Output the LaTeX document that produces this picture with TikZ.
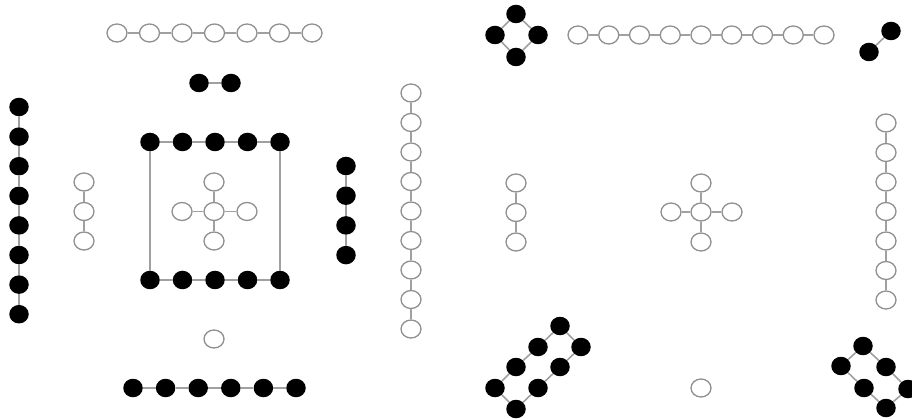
\documentclass[tikz,border=0pt]{standalone}
\usetikzlibrary{shapes.geometric}
\definecolor{edgegray}{HTML}{A0A0A0}
\definecolor{ringgray}{HTML}{909090}
\tikzset{
  wn/.style={ellipse, draw=ringgray, line width=1.3pt, fill=white, minimum width=20pt, minimum height=18pt, inner sep=0pt},
  bn/.style={ellipse, fill=black, minimum width=19.5pt, minimum height=18.5pt, inner sep=0pt},
  edge/.style={draw=edgegray, line width=1.6pt}
}
\begin{document}
\begin{tikzpicture}[x=1pt,y=-1pt]
\useasboundingbox (0,0) rectangle (912,419);
\fill[white] (0,0) rectangle (912,419);
% ---------- left half ----------
% top white chain
\foreach \i in {1,...,7} \node[wn] (t\i) at ({117+32.5*(\i-1)},33) {};
\foreach \i [count=\j from 2] in {1,...,6} \draw[edge] (t\i) -- (t\j);
% black pair
\node[bn] (p1) at (199,83) {};
\node[bn] (p2) at (231,83) {};
\draw[edge] (p1) -- (p2);
% left black vertical chain
\foreach \i in {1,...,8} \node[bn] (L\i) at (19,{107+29.6*(\i-1)}) {};
\foreach \i [count=\j from 2] in {1,...,7} \draw[edge] (L\i) -- (L\j);
% white 3-chain
\foreach \i in {1,...,3} \node[wn] (a\i) at (84,{182+29.5*(\i-1)}) {};
\foreach \i [count=\j from 2] in {1,...,2} \draw[edge] (a\i) -- (a\j);
% rectangle of black nodes
\foreach \i in {1,...,5} {
  \node[bn] (r\i) at ({150+32.5*(\i-1)},142) {};
  \node[bn] (s\i) at ({150+32.5*(\i-1)},280) {};
}
\foreach \i [count=\j from 2] in {1,...,4} {
  \draw[edge] (r\i) -- (r\j);
  \draw[edge] (s\i) -- (s\j);
}
\draw[edge] (r1) -- (s1);
\draw[edge] (r5) -- (s5);
% white cross
\node[wn] (c0) at (214,211.5) {};
\node[wn] (cT) at (214,182) {};
\node[wn] (cL) at (182,211.5) {};
\node[wn] (cR) at (247,211.5) {};
\node[wn] (cB) at (214,241) {};
\foreach \n in {cT,cL,cR,cB} \draw[edge] (c0) -- (\n);
% right black vertical chain
\foreach \i in {1,...,4} \node[bn] (k\i) at (346,{166+29.7*(\i-1)}) {};
\foreach \i [count=\j from 2] in {1,...,3} \draw[edge] (k\i) -- (k\j);
% white vertical chain of nine
\foreach \i in {1,...,9} \node[wn] (v\i) at (411,{93+29.5*(\i-1)}) {};
\foreach \i [count=\j from 2] in {1,...,8} \draw[edge] (v\i) -- (v\j);
% single white
\node[wn] (sw1) at (214,339) {};
% bottom black chain
\foreach \i in {1,...,6} \node[bn] (b\i) at ({133+32.6*(\i-1)},388) {};
\foreach \i [count=\j from 2] in {1,...,5} \draw[edge] (b\i) -- (b\j);
% ---------- right half ----------
% black diamond
\node[bn] (dT) at (516,14) {};
\node[bn] (dL) at (495,35) {};
\node[bn] (dR) at (538,35) {};
\node[bn] (dB) at (516,57) {};
\draw[edge] (dT) -- (dL) -- (dB) -- (dR) -- (dT);
% white chain of nine
\foreach \i in {1,...,9} \node[wn] (w\i) at ({578+30.75*(\i-1)},35) {};
\foreach \i [count=\j from 2] in {1,...,8} \draw[edge] (w\i) -- (w\j);
% diagonal black pair
\node[bn] (q1) at (869,52) {};
\node[bn] (q2) at (891,31) {};
\draw[edge] (q1) -- (q2);
% far right white vertical chain
\foreach \i in {1,...,7} \node[wn] (f\i) at (886,{123+29.5*(\i-1)}) {};
\foreach \i [count=\j from 2] in {1,...,6} \draw[edge] (f\i) -- (f\j);
% white 3-chain
\foreach \i in {1,...,3} \node[wn] (e\i) at (516,{183+29.5*(\i-1)}) {};
\foreach \i [count=\j from 2] in {1,...,2} \draw[edge] (e\i) -- (e\j);
% white cross
\node[wn] (x0) at (701,212) {};
\node[wn] (xT) at (701,183) {};
\node[wn] (xL) at (671,212) {};
\node[wn] (xR) at (732,212) {};
\node[wn] (xB) at (701,242) {};
\foreach \n in {xT,xL,xR,xB} \draw[edge] (x0) -- (\n);
% black 8-cycle ladder
\node[bn] (g1) at (560,326) {};
\node[bn] (g2) at (538,347) {};
\node[bn] (g3) at (516,367) {};
\node[bn] (g4) at (495,388) {};
\node[bn] (g5) at (516,409) {};
\node[bn] (g6) at (538,388) {};
\node[bn] (g7) at (560,367) {};
\node[bn] (g8) at (581,347) {};
\draw[edge] (g1) -- (g2) -- (g3) -- (g4) -- (g5) -- (g6) -- (g7) -- (g8) -- (g1);
% single white
\node[wn] (sw2) at (701,388) {};
% black 6-cycle
\node[bn] (h1) at (863,346) {};
\node[bn] (h2) at (841,366) {};
\node[bn] (h3) at (864,388) {};
\node[bn] (h4) at (886,408) {};
\node[bn] (h5) at (908,389) {};
\node[bn] (h6) at (886,367) {};
\draw[edge] (h1) -- (h2) -- (h3) -- (h4) -- (h5) -- (h6) -- (h1);
\end{tikzpicture}
\end{document}
